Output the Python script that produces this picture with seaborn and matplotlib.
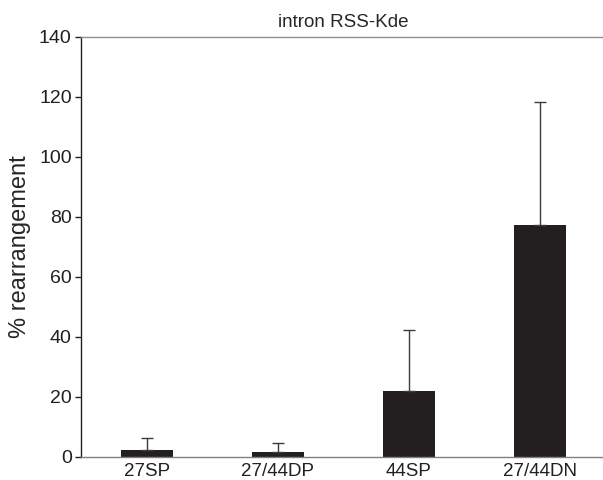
import matplotlib
matplotlib.use("Agg")
import matplotlib.pyplot as plt
import seaborn as sns
import pandas as pd
import numpy as np

categories = ["27SP", "27/44DP", "44SP", "27/44DN"]
values = [2.4, 1.6, 21.9, 77.2]
err_upper = [3.8, 3.2, 20.3, 41.0]
yticks = [0, 20, 40, 60, 80, 100, 120, 140]

sns.set_theme(style="white")
plt.rcParams['font.family'] = ['Liberation Sans', 'DejaVu Sans']

df = pd.DataFrame({"cat": categories, "val": values})

fig = plt.figure(figsize=(6.03, 4.80), dpi=100)
ax = fig.add_axes([0.135, 0.048, 0.869, 0.875])

sns.barplot(data=df, x="cat", y="val", color="#231f20", width=0.4,
            errorbar=None, ax=ax, saturation=1, edgecolor="none")
x = np.arange(len(categories))
ax.errorbar(x, values, yerr=[np.zeros(len(values)), err_upper], fmt="none",
            ecolor="#3c3c3c", elinewidth=1.0, capsize=4.2, capthick=1.0)

ax.set_xlim(-0.5, 3.5)
ax.set_ylim(0, 140)
ax.set_yticks(yticks)
ax.set_xlabel("")
ax.set_ylabel("% rearrangement", fontsize=17, labelpad=6)
ax.set_title("intron RSS-Kde", fontsize=13.5, pad=7)

ax.spines["right"].set_visible(False)
ax.spines["left"].set_color("#231f20")
ax.spines["left"].set_linewidth(1.0)
ax.spines["bottom"].set_color("#808080")
ax.spines["top"].set_color("#909090")
ax.spines["bottom"].set_linewidth(1.0)
ax.spines["top"].set_linewidth(1.0)

ax.tick_params(axis="y", direction="out", length=4, width=1.0, color="#231f20",
               labelsize=14, pad=3, left=True, labelcolor="#231f20")
ax.tick_params(axis="x", length=0, labelsize=13.5, pad=4, labelcolor="#231f20")

fig.savefig("out.png", dpi=100)
